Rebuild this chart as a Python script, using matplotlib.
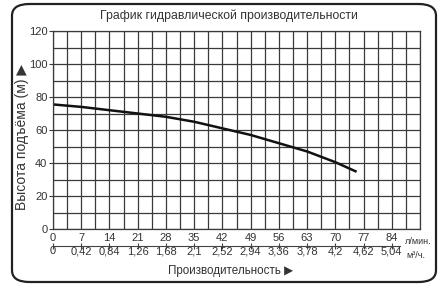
import matplotlib
matplotlib.use("Agg")
import matplotlib.pyplot as plt
from matplotlib.patches import FancyBboxPatch

# flow, l/min vs head, m
flow = [0, 7, 14, 21, 28, 35, 42, 49, 56, 63, 70, 75]
head = [75.5, 74, 72, 70, 68, 65, 61, 57, 52, 47, 40.5, 35]

lpm_ticks = [0, 7, 14, 21, 28, 35, 42, 49, 56, 63, 70, 77, 84]
m3h_labels = ["0", "0,42", "0,84", "1,26", "1,68", "2,1", "2,52", "2,94",
              "3,36", "3,78", "4,2", "4,62", "5,04"]
head_ticks = [0, 20, 40, 60, 80, 100, 120]

plt.rcParams['font.family'] = ['Liberation Sans', 'DejaVu Sans']
TXT = '#333333'
W, H = 439, 293
FS = 8

fig = plt.figure(figsize=(W / 100, H / 100), dpi=100)

def box(x0, y0, x1, y1):
    return [x0 / W, 1 - y1 / H, (x1 - x0) / W, (y1 - y0) / H]

# rounded frame round the whole thing
frame = FancyBboxPatch((12 / W, 1 - 282 / H), 424 / W, 278 / H,
                       boxstyle="round,pad=0,rounding_size=0.04",
                       transform=fig.transFigure, fill=False,
                       edgecolor='#222222', linewidth=1.6)
fig.patches.append(frame)

ax = fig.add_axes(box(53, 31, 420, 229))
ax.set_xlim(0, 91)
ax.set_ylim(0, 120)
ax.set_xticks([i * 3.5 for i in range(27)])
ax.tick_params(axis='x', length=0, labelbottom=False)
ax.set_yticks(head_ticks)
ax.set_yticks(range(10, 120, 20), minor=True)
ax.grid(True, color='#3a3a3a', linewidth=0.9)
ax.grid(True, which='minor', axis='y', color='#3a3a3a', linewidth=0.9)
ax.set_yticklabels([str(v) for v in head_ticks], fontsize=FS, color=TXT)
ax.tick_params(axis='y', length=3, color='#3a3a3a', pad=1)
ax.tick_params(axis='y', which='minor', length=0)
for s in ax.spines.values():
    s.set_color('#3a3a3a')
    s.set_linewidth(0.9)

ax.plot(flow, head, color='#111111', linewidth=1.8)

# flow scale strip under the chart
ax2 = fig.add_axes(box(53, 246, 420, 246))
ax2.set_xlim(0, 91)
ax2.set_yticks([])
for s in ['top', 'left', 'right']:
    ax2.spines[s].set_visible(False)
ax2.spines['bottom'].set_bounds(0, 86)
ax2.spines['bottom'].set_color('#444444')
ax2.set_xticks(lpm_ticks)
ax2.set_xticklabels([str(v) for v in lpm_ticks], fontsize=FS, color=TXT)
ax2.tick_params(axis='x', direction='inout', length=5, color='#444444',
                labeltop=True, labelbottom=False, top=False, pad=0)
for x, lab in zip(lpm_ticks, m3h_labels):
    ax2.text(x, -0.7, lab, transform=ax2.get_xaxis_transform(),
             ha='center', va='top', fontsize=FS, color=TXT)

fig.text(418 / W, 1 - 241 / H, "л/мин.", ha='center', va='center',
         fontsize=6.5, color=TXT)
fig.text(416 / W, 1 - 255 / H, "м³/ч.", ha='center', va='center',
         fontsize=6.5, color=TXT)

fig.text(229 / W, 1 - 16 / H, "График гидравлической производительности",
         ha='center', va='center', fontsize=8.8, color=TXT)
fig.text(22 / W, 1 - 137 / H, "Высота подъёма (м) ▶", rotation=90,
         ha='center', va='center', fontsize=10, color=TXT)
fig.text(231 / W, 1 - 271 / H, "Производительность ▶",
         ha='center', va='center', fontsize=8.4, color=TXT)

fig.savefig("out.png", dpi=100)
